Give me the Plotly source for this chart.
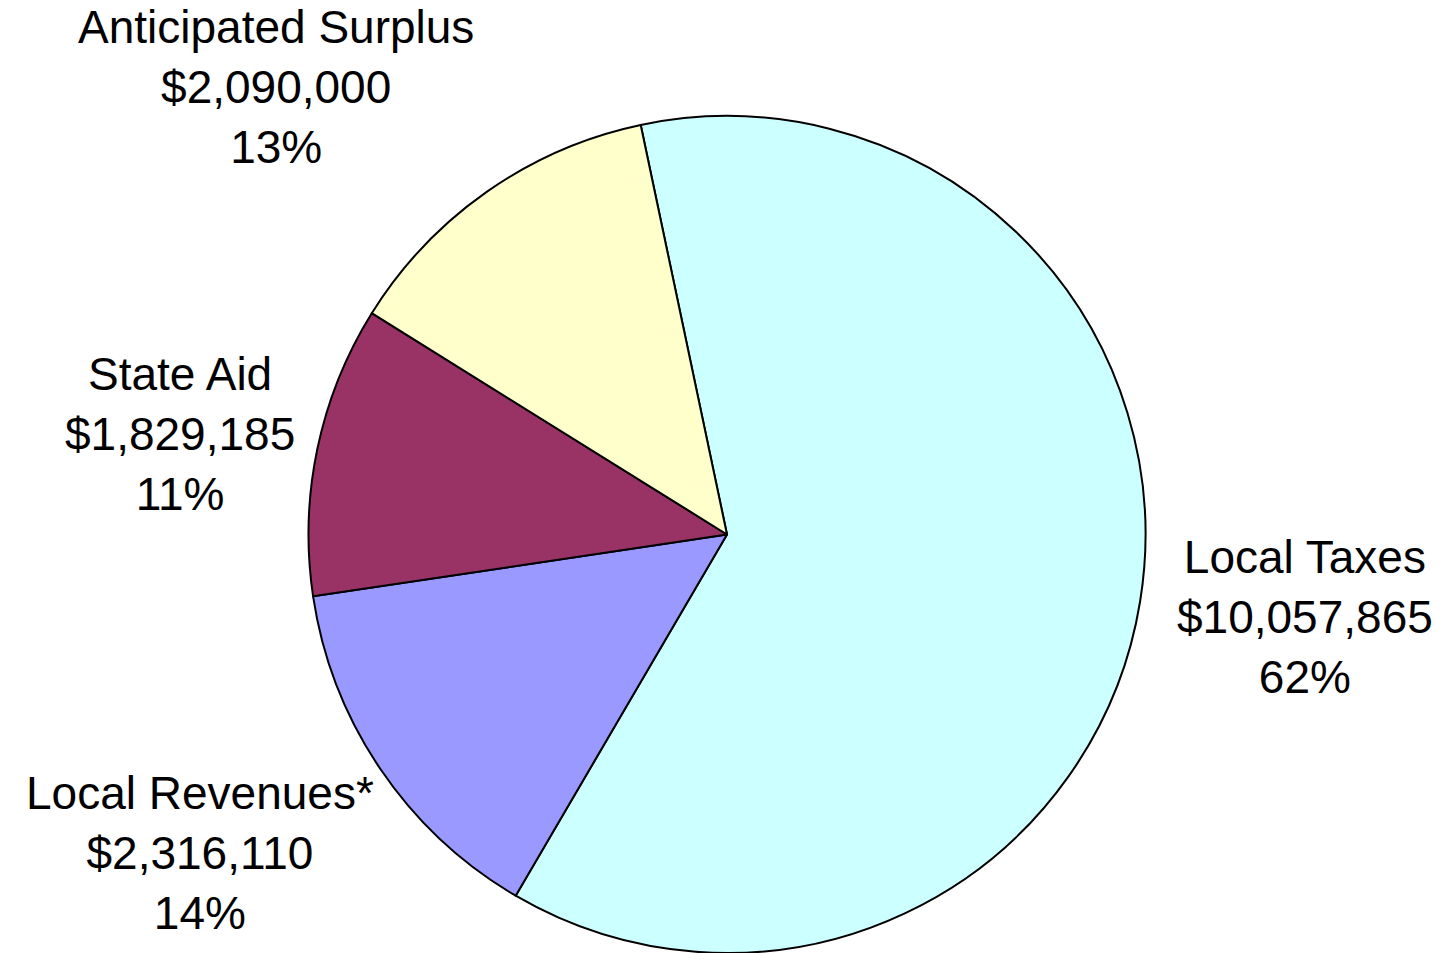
import math
import plotly.graph_objects as go

# Revenue sources, listed clockwise
labels = ["Local Taxes", "Local Revenues*", "State Aid", "Anticipated Surplus"]
amounts = [10057865, 2316110, 1829185, 2090000]
colors = ["#CCFFFF", "#9999FF", "#993366", "#FFFFCC"]

# Layout constants
W, H = 1448, 953
CX, CY, R = 727, 534.5, 418.5       # pie centre and radius in pixels
ROTATION = -11.9                    # start angle of the first slice (deg, clockwise from 12 o'clock)
LABEL_GAP = [35, 5, 21, 20]         # radial gap between rim and label box, per slice
LABEL_NUDGE_Y = [10, -7, -11, 0]    # small vertical adjustment of each label (px, down positive)
FONT = dict(family="Liberation Sans, Arial, sans-serif", size=46, color="black")

fig = go.Figure(
    go.Pie(
        labels=labels,
        values=amounts,
        sort=False,
        direction="clockwise",
        rotation=ROTATION,
        marker=dict(colors=colors, line=dict(color="black", width=2)),
        textinfo="none",
        showlegend=False,
        hoverinfo="skip",
        domain=dict(
            x=[(CX - R) / W, (CX + R) / W],
            y=[max(0.0, 1 - (CY + R) / H), min(1.0, 1 - (CY - R) / H)],
        ),
    )
)

# Outside labels placed along each slice's mid-angle
total = sum(amounts)
start = ROTATION
for name, val, gap, nudge in zip(labels, amounts, LABEL_GAP, LABEL_NUDGE_Y):
    span = 360.0 * val / total
    mid = math.radians(start + span / 2)
    start += span
    dx, dy = math.sin(mid), -math.cos(mid)   # screen direction (y down)
    px = CX + (R + gap) * dx
    py = CY + (R + gap) * dy + nudge
    xanchor = "left" if dx > 0 else "right"
    if abs(dy) < 0.3:
        yanchor = "middle"
    else:
        yanchor = "bottom" if dy < 0 else "top"
    text = f"{name}<br>${val:,}<br>{round(100 * val / total)}%"
    fig.add_annotation(
        x=px / W, y=1 - py / H, xref="paper", yref="paper",
        text=text, showarrow=False, align="center",
        xanchor=xanchor, yanchor=yanchor, font=FONT,
    )

fig.update_layout(
    width=W,
    height=H,
    margin=dict(l=0, r=0, t=0, b=0),
    paper_bgcolor="white",
    plot_bgcolor="white",
)

fig.write_html("out.html")
